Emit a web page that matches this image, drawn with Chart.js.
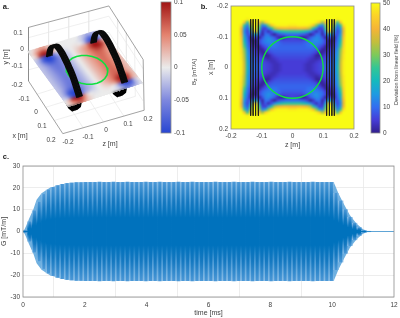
<!DOCTYPE html>
<html>
<head>
<meta charset="utf-8">
<style>
  html, body { margin: 0; padding: 0; background: #fff; }
  #page { position: relative; width: 400px; height: 318px; overflow: hidden; font-family: "Liberation Sans", Arial, sans-serif; color: #404040; }
  #page canvas { position: absolute; left: 0; top: 0; }
  .lbl { position: absolute; font-size: 6.5px; white-space: nowrap; transform: translate(-50%, -50%); }
  .rot { transform: translate(-50%, -50%) rotate(-90deg); }
  .panel { font-weight: bold; font-size: 7.5px; color: #222; }
  sub { font-size: 5px; vertical-align: -1px; line-height: 0; }
</style>
<script src="https://cdn.jsdelivr.net/npm/chart.js@4"></script>
</head>
<body>
<div id="page">
  <canvas id="chartA" width="400" height="318"></canvas>
  <canvas id="barA" width="400" height="318"></canvas>
  <canvas id="chartB" width="400" height="318"></canvas>
  <canvas id="barB" width="400" height="318"></canvas>
  <canvas id="chartC" width="400" height="318"></canvas>
</div>
<script>
// panel c: gradient waveform, one peak per stripe
const gTimes = [0.075, 0.225, 0.375, 0.525, 0.675, 0.825, 0.975, 1.125, 1.275, 1.425, 1.575, 1.725,
  1.875, 2.025, 2.175, 2.325, 2.475, 2.625, 2.775, 2.925, 3.075, 3.225, 3.375, 3.525, 3.675, 3.825,
  3.975, 4.125, 4.275, 4.425, 4.575, 4.725, 4.875, 5.025, 5.175, 5.325, 5.475, 5.625, 5.775, 5.925,
  6.075, 6.225, 6.375, 6.525, 6.675, 6.825, 6.975, 7.125, 7.275, 7.425, 7.575, 7.725, 7.875, 8.025,
  8.175, 8.325, 8.475, 8.625, 8.775, 8.925, 9.075, 9.225, 9.375, 9.525, 9.675, 9.825, 9.975,
  10.125, 10.275, 10.425, 10.575, 10.725, 10.875, 11.025, 11.175];
const gPeaks = [0.5, 4.5, 9.5, 13.5, 17, 19, 20.2, 21, 21.6, 22, 22.2, 22.4,
  22.4, 22.5, 22.5, 22.5, 22.6, 22.5, 22.5, 22.6, 22.5, 22.5, 22.6, 22.5, 22.5, 22.5,
  22.6, 22.5, 22.5, 22.6, 22.5, 22.5, 22.5, 22.6, 22.5, 22.5, 22.6, 22.5, 22.5, 22.5,
  22.5, 22.6, 22.5, 22.5, 22.5, 22.6, 22.5, 22.5, 22.5, 22.6, 22.5, 22.5, 22.5, 22.6,
  22.5, 22.5, 22.5, 22.6, 22.5, 22.5, 22.5, 22.5, 22.6, 22.5, 22.5, 22.5, 22.5,
  17.5, 14, 10, 6.5, 3.8, 1.8, 0.5, 0.1];
// outline of the waveform, smoother than the stripes
const envTimes = [0, 0.05, 0.1, 0.2, 0.33, 0.44, 0.6, 0.87, 1.1, 1.52, 2, 10.05, 10.1, 10.2, 10.36, 10.57, 10.79, 11, 11.16];
const envValues = [0, 1, 2.5, 6, 10, 14.5, 17.5, 20, 21, 22, 22.5, 22.5, 21, 17.5, 13, 7.6, 3.5, 1, 0.1];
const tailTimes = [11.1, 12];
const tailValues = [0, 0];
const cTicksX = [0, 2, 4, 6, 8, 10, 12];
const cTicksY = [-30, -20, -10, 0, 10, 20, 30];

// panel b: deviation [%], top-left quadrant, mirrored to the other three
const deviationQuarter = [
  [50,50,50,50,50,50,50,50,50,50,50,50,50,50,50,50,50,50,50,50,50],
  [50,50,50,50,50,50,50,50,50,50,50,50,50,50,50,50,50,50,50,50,50],
  [50,50,50,50,50,50,50,50,50,50,50,50,50,50,50,50,50,50,50,50,50],
  [50,50,50,50,50,50,50,50,50,50,50,50,50,50,50,50,50,50,50,50,50],
  [50,50,50,50,50,48,50,50,50,50,50,50,50,50,50,50,50,50,50,50,50],
  [50,50,50,50,42,25,42,50,50,40,32,44,48,50,50,50,50,50,50,50,50],
  [50,50,50,46,24,12,30,50,50,30,12,16,30,42,47,49,49,49,49,48,48],
  [50,50,50,40,15, 8,22,48,50,25, 6, 5,12,22,33,38,40,41,41,40,40],
  [50,50,50,38,13, 6,14,35,45,15, 3, 8, 3, 7,13,18,21,23,24,24,24],
  [50,50,50,40,15, 7, 8,16,18, 8, 2,10,10, 4, 1, 5, 8, 9,10,10,10],
  [50,50,50,42,18, 9, 2, 6, 6, 1, 7,12,13,11, 8, 3, 1, 1, 4, 5, 6],
  [50,50,50,43,20,10, 3, 1, 1, 6,10,12,14,13,11, 9, 7, 6, 6, 6, 6],
  [50,50,50,44,23,11, 5, 2, 1, 5, 9,11,12,12,11,10, 9, 8, 8, 8, 8],
  [50,50,50,45,26,12, 6, 4, 2, 1, 5, 8,10,11,11,10, 9, 9, 9, 9, 9],
  [50,50,50,46,30,14, 8, 6, 4, 1, 1, 5, 8, 9, 9, 9, 9, 9, 9, 9, 9],
  [50,50,50,46,32,15, 9, 7, 5, 3, 1, 1, 5, 7, 8, 8, 8, 8, 8, 8, 8],
  [50,50,50,47,33,16,10, 8, 6, 5, 3, 1, 1, 4, 6, 7, 7, 7, 7, 7, 7],
  [50,50,50,47,34,17,10, 9, 8, 6, 5, 3, 2, 3, 4, 5, 6, 6, 6, 6, 6],
  [50,50,50,48,35,18,11, 9, 8, 7, 6, 5, 4, 3, 3, 4, 5, 5, 5, 5, 5],
  [50,50,50,48,36,19,11,10, 9, 8, 7, 6, 5, 4, 3, 3, 4, 5, 5, 5, 5],
  [50,50,50,48,36,20,11,10, 9, 8, 7, 6, 5, 4, 3, 3, 4, 5, 5, 5, 5]
];
const planeTicks = [-0.2, -0.1, 0, 0.1, 0.2];

// panel a: Bz [mT/A] on the plane, quarter with z from -0.2 to 0, x from -0.2 to 0
const fieldQuarter = [
  [ 0.000, 0.010, 0.025, 0.035, 0.035, 0.020, 0.010, 0.000, 0.000, 0.000, 0],
  [ 0.005, 0.025, 0.055, 0.075, 0.075, 0.040, 0.015, 0.005, 0.000, 0.000, 0],
  [ 0.000, 0.025, 0.085, 0.100, 0.100, 0.060, 0.015, 0.000,-0.005,-0.003, 0],
  [-0.015,-0.030,-0.075,-0.100,-0.100,-0.070,-0.035,-0.025,-0.015,-0.008, 0],
  [-0.020,-0.040,-0.085,-0.100,-0.100,-0.080,-0.050,-0.035,-0.025,-0.012, 0],
  [-0.020,-0.035,-0.060,-0.080,-0.080,-0.065,-0.050,-0.035,-0.025,-0.012, 0],
  [-0.020,-0.030,-0.045,-0.060,-0.065,-0.060,-0.048,-0.035,-0.025,-0.012, 0],
  [-0.020,-0.030,-0.042,-0.055,-0.062,-0.058,-0.046,-0.035,-0.025,-0.012, 0],
  [-0.020,-0.030,-0.040,-0.052,-0.060,-0.056,-0.045,-0.035,-0.025,-0.012, 0],
  [-0.020,-0.030,-0.040,-0.050,-0.060,-0.055,-0.045,-0.035,-0.025,-0.012, 0],
  [-0.020,-0.030,-0.040,-0.050,-0.060,-0.055,-0.045,-0.035,-0.025,-0.012, 0]
];

// the green target circle, radius 0.1 m
const circleZ = [0.1, 0.0966, 0.0866, 0.0707, 0.05, 0.0259, 0, -0.0259, -0.05, -0.0707, -0.0866, -0.0966,
  -0.1, -0.0966, -0.0866, -0.0707, -0.05, -0.0259, 0, 0.0259, 0.05, 0.0707, 0.0866, 0.0966, 0.1];
const circleX = [0, 0.0259, 0.05, 0.0707, 0.0866, 0.0966, 0.1, 0.0966, 0.0866, 0.0707, 0.05, 0.0259,
  0, -0.0259, -0.05, -0.0707, -0.0866, -0.0966, -0.1, -0.0966, -0.0866, -0.0707, -0.05, -0.0259, 0];

// coil wires
const wireZ = [-0.136, -0.128, -0.12, -0.111, 0.111, 0.12, 0.128, 0.136];
const wireEndsX = [-0.157, 0.157];
const coilX = [-0.15, -0.14, -0.12, -0.08, -0.04, 0, 0.04, 0.08, 0.12, 0.15];
const coilY = [0, 0.05, 0.09, 0.125, 0.13, 0.12, 0.1, 0.075, 0.035, 0];
const lowerCoilX = [0.15, 0.13, 0.1, 0.07, 0.03];
const lowerCoilY = [0, -0.08, -0.12, -0.13, -0.12];

const colorbarATicks = [-0.1, -0.05, 0, 0.05, 0.1];
const colorbarBTicks = [0, 10, 20, 30, 40, 50];

const parula = [[50,30,140],[70,60,215],[50,110,240],[30,155,225],[20,185,190],[50,198,150],
  [125,202,90],[195,190,60],[245,180,55],[252,210,40],[249,251,20]];
const blueRed = [[40,70,210],[125,135,222],[235,235,235],[228,130,110],[160,20,20]];

const W = 400, H = 318;
const AXIS_GREY = '#8c8c8c', GRID_GREY = '#e8e8e8', TEXT_GREY = '#404040';
const FONT = { family: '"Liberation Sans", Arial, sans-serif', size: 6.5 };

Chart.defaults.animation = false;
Chart.defaults.responsive = false;
Chart.defaults.plugins.legend.display = false;
Chart.defaults.plugins.tooltip.enabled = false;
Chart.defaults.color = TEXT_GREY;

function pick(stops, t) {
  const p = Math.min(Math.max(t, 0), 1) * (stops.length - 1);
  const i = Math.min(Math.floor(p), stops.length - 2);
  const f = p - i;
  const c = stops[i].map((v, k) => Math.round(v + (stops[i + 1][k] - v) * f));
  return `rgb(${c[0]},${c[1]},${c[2]})`;
}

function mix2d(q, u, v) {
  return [
    q[0][0] * (1 - u) * (1 - v) + q[1][0] * u * (1 - v) + q[2][0] * u * v + q[3][0] * (1 - u) * v,
    q[0][1] * (1 - u) * (1 - v) + q[1][1] * u * (1 - v) + q[2][1] * u * v + q[3][1] * (1 - u) * v
  ];
}

// axes sizes are forced so the plot areas land where they do in the figure
function fitAxis(size, vertical) {
  return scale => {
    if (vertical) scale.width = size; else scale.height = size;
    scale.paddingTop = scale.paddingBottom = scale.paddingLeft = scale.paddingRight = 0;
  };
}

// soften the blocks of a finished heat dataset, the figure's maps are smooth
function softenCells(chart, px) {
  const ctx = chart.ctx;
  ctx.save();
  ctx.filter = `blur(${px}px)`;
  ctx.drawImage(chart.canvas, 0, 0);
  ctx.restore();
}

const frame = {
  id: 'frame',
  afterLayout(chart) {
    // labels are clipped to the scale box, which the layout keeps narrow here
    const y = chart.scales.y;
    if (y && y.options.position === 'right') y.right = y.left + 40;
  },
  afterDatasetsDraw(chart) {
    const a = chart.chartArea, ctx = chart.ctx;
    ctx.save();
    ctx.strokeStyle = AXIS_GREY;
    ctx.lineWidth = 0.8;
    ctx.strokeRect(a.left, a.top, a.right - a.left, a.bottom - a.top);
    ctx.restore();
  }
};

/* ---------- panel a, drawn in page pixels from a small projection ---------- */
const planeCorners = [[27, 51], [100, 29], [143, 83], [68, 107]];
const floorCorners = [[25, 79], [107, 52], [143, 109], [60, 133]];
const topCorners = [[25, 24], [107, 2], [142, 57], [60, 80]];

function project(z, x, y) {
  const u = (z + 0.2) / 0.4, v = (x + 0.2) / 0.4;
  const p = mix2d(planeCorners, u, v);
  return { x: p[0], y: p[1] - y * 165 };
}
function onCorners(q, z, x) {
  const p = mix2d(q, (z + 0.2) / 0.4, (x + 0.2) / 0.4);
  return { x: p[0], y: p[1] };
}

const planePoints = [], planeColors = [];
for (let i = 0; i <= 20; i++) {
  for (let j = 0; j <= 20; j++) {
    const row = fieldQuarter[i <= 10 ? i : 20 - i];
    const val = row[j <= 10 ? j : 20 - j] * (j > 10 ? -1 : 1);
    const z = -0.2 + j * 0.02, x = -0.2 + i * 0.02;
    planePoints.push(project(z, x, 0));
    planeColors.push(pick(blueRed, (val + 0.1) / 0.2));
  }
}

const lineSet = (data, color, width, order) => ({
  type: 'scatter', data, showLine: true, borderColor: color, borderWidth: width,
  pointRadius: 0, order, tension: 0, fill: false
});

const dsA = [];
planeTicks.slice(1, 4).forEach(t => {
  dsA.push(lineSet([onCorners(floorCorners, t, -0.2), onCorners(floorCorners, t, 0.2)], GRID_GREY, 0.7, 9));
  dsA.push(lineSet([onCorners(floorCorners, -0.2, t), onCorners(floorCorners, 0.2, t)], GRID_GREY, 0.7, 9));
  dsA.push(lineSet([onCorners(topCorners, t, -0.2), onCorners(floorCorners, t, -0.2)], GRID_GREY, 0.7, 9));
  dsA.push(lineSet([onCorners(topCorners, 0.2, t), onCorners(floorCorners, 0.2, t)], GRID_GREY, 0.7, 9));
});
[[-0.1], [0], [0.1]].forEach(([y]) => {
  const dy = (0 - y) * 165;
  dsA.push(lineSet([{ x: 25, y: 51 + dy }, { x: 107, y: 29 + dy }, { x: 142, y: 83 + dy }], GRID_GREY, 0.7, 9));
});
dsA.push(lineSet([
  { x: 25, y: 79 }, { x: 60, y: 133 }, { x: 143, y: 109 }, { x: 142, y: 57 }, { x: 107, y: 2 }, { x: 25, y: 24 }, { x: 25, y: 79 }
], AXIS_GREY, 0.8, 8));

wireZ.forEach(z => {
  dsA.push(lineSet(lowerCoilX.map((x, i) => project(z, x, lowerCoilY[i])), '#000', 2.2, 7));
});
dsA.push({
  type: 'scatter', label: 'plane', data: planePoints, backgroundColor: planeColors,
  pointRadius: 3.4, pointStyle: 'circle', borderWidth: 0, order: 5
});
dsA.push(lineSet(circleZ.map((z, i) => project(z, circleX[i], 0)), '#10e040', 1.6, 3));
wireZ.forEach(z => {
  const ds = lineSet(coilX.map((x, i) => project(z, x, coilY[i])), '#0a0a0a', 2.2, 2);
  ds.tension = 0.4;
  dsA.push(ds);
});

const clipPlane = {
  id: 'clipPlane',
  beforeDatasetDraw(chart, args) {
    if (chart.data.datasets[args.index].label !== 'plane') return;
    const ctx = chart.ctx;
    ctx.save();
    ctx.beginPath();
    planeCorners.forEach((c, i) => i ? ctx.lineTo(c[0], c[1]) : ctx.moveTo(c[0], c[1]));
    ctx.closePath();
    ctx.clip();
  },
  afterDatasetDraw(chart, args) {
    if (chart.data.datasets[args.index].label !== 'plane') return;
    softenCells(chart, 1.6);
    chart.ctx.restore();
  }
};

new Chart(document.getElementById('chartA'), {
  type: 'scatter',
  data: { datasets: dsA },
  plugins: [clipPlane],
  options: {
    layout: { padding: 0 },
    clip: false,
    scales: {
      x: { type: 'linear', min: 0, max: W, display: false },
      y: { type: 'linear', min: 0, max: H, reverse: true, display: false }
    }
  }
});

/* ---------- colour bars ---------- */
function colorbar(id, area, ticks, stops, yWidth, fmt) {
  const lo = ticks[0], hi = ticks[ticks.length - 1];
  new Chart(document.getElementById(id), {
    type: 'bar',
    data: {
      labels: [''],
      datasets: [{
        data: [[lo, hi]],
        barPercentage: 1,
        categoryPercentage: 1,
        backgroundColor(ctx) {
          const a = ctx.chart.chartArea;
          if (!a) return '#fff';
          const g = ctx.chart.ctx.createLinearGradient(0, a.bottom, 0, a.top);
          stops.forEach((c, i) => g.addColorStop(i / (stops.length - 1), `rgb(${c[0]},${c[1]},${c[2]})`));
          return g;
        }
      }]
    },
    plugins: [frame],
    options: {
      layout: { padding: { left: area.l, top: area.t, right: W - area.r - yWidth, bottom: H - area.b } },
      scales: {
        x: { display: false },
        y: {
          position: 'right', min: lo, max: hi,
          afterFit: fitAxis(yWidth, true),
          afterBuildTicks: s => { s.ticks = ticks.map(v => ({ value: v })); },
          grid: { display: false, drawTicks: false },
          border: { display: false },
          ticks: { font: FONT, padding: 3, autoSkip: false, maxRotation: 0, callback: fmt }
        }
      }
    }
  });
}
colorbar('barA', { l: 161, t: 2, r: 171, b: 133 }, colorbarATicks, blueRed, 20, v => String(v));
colorbar('barB', { l: 371, t: 3, r: 380, b: 133 }, colorbarBTicks, parula, 18, v => String(v));

/* ---------- panel b ---------- */
const cellPoints = [], cellColors = [];
for (let i = 0; i < 41; i++) {
  for (let j = 0; j < 41; j++) {
    const v = deviationQuarter[i <= 20 ? i : 40 - i][j <= 20 ? j : 40 - j];
    cellPoints.push({ x: -0.2 + (j + 0.5) * 0.4 / 41, y: -0.2 + (i + 0.5) * 0.4 / 41 });
    cellColors.push(pick(parula, v / 50));
  }
}
const dsB = [{
  label: 'cells', data: cellPoints, backgroundColor: cellColors, pointStyle: 'rect',
  pointRadius: 2.2, borderWidth: 0, order: 5
}];
wireZ.forEach(z => {
  dsB.push({
    data: wireEndsX.map(x => ({ x: z, y: x })), showLine: true, borderColor: '#1a1a1a', borderWidth: 0.8,
    pointRadius: 0, order: 2
  });
});
dsB.push({
  data: circleZ.map((z, i) => ({ x: z, y: circleX[i] })), showLine: true, borderColor: '#10e040',
  borderWidth: 1.4, pointRadius: 0, order: 1, tension: 0.3
});

const softCells = {
  id: 'softCells',
  afterDatasetDraw(chart, args) {
    if (chart.data.datasets[args.index].label !== 'cells') return;
    const a = chart.chartArea, ctx = chart.ctx;
    ctx.save();
    ctx.beginPath();
    ctx.rect(a.left, a.top, a.right - a.left, a.bottom - a.top);
    ctx.clip();
    softenCells(chart, 0.8);
    ctx.restore();
  }
};

const areaB = { l: 231, t: 6, r: 354, b: 129 };
new Chart(document.getElementById('chartB'), {
  type: 'scatter',
  data: { datasets: dsB },
  plugins: [frame, softCells],
  options: {
    layout: { padding: { left: areaB.l - 24, top: areaB.t, right: W - areaB.r, bottom: H - areaB.b - 20 } },
    scales: {
      x: {
        type: 'linear', min: -0.2, max: 0.2,
        afterFit: fitAxis(20, false),
        afterBuildTicks: s => { s.ticks = planeTicks.map(v => ({ value: v })); },
        grid: { display: false, drawTicks: false }, border: { display: false },
        ticks: { font: FONT, padding: 3, autoSkip: false, maxRotation: 0, callback: v => String(v) },
        title: { display: true, text: 'z [m]', font: { family: FONT.family, size: 7 }, padding: 0 }
      },
      y: {
        type: 'linear', min: -0.2, max: 0.2, reverse: true,
        afterFit: fitAxis(24, true),
        afterBuildTicks: s => { s.ticks = planeTicks.map(v => ({ value: v })); },
        grid: { display: false, drawTicks: false }, border: { display: false },
        ticks: { font: FONT, padding: 3, autoSkip: false, callback: v => String(v) },
        title: { display: true, text: 'x [m]', font: { family: FONT.family, size: 7 }, padding: 0 }
      }
    }
  }
});

/* ---------- panel c ---------- */
function stripeFill(edge, shoulder) {
  return ctx => {
    const chart = ctx.chart;
    if (!chart.chartArea) return '#0072bd';
    const e = gPeaks[ctx.dataIndex];
    const s = chart.scales.y;
    const g = chart.ctx.createLinearGradient(0, s.getPixelForValue(e), 0, s.getPixelForValue(-e));
    g.addColorStop(0, edge);
    g.addColorStop(0.2, shoulder);
    g.addColorStop(0.36, '#0072bd');
    g.addColorStop(0.64, '#0072bd');
    g.addColorStop(0.8, shoulder);
    g.addColorStop(1, edge);
    return g;
  };
}
const stripeData = gTimes.map((t, i) => ({ x: t, y: [-gPeaks[i], gPeaks[i]] }));
const areaC = { l: 23, t: 166, r: 394, b: 297 };
new Chart(document.getElementById('chartC'), {
  type: 'bar',
  data: {
    datasets: [
      { data: stripeData, grouped: false, barThickness: 4.7, backgroundColor: stripeFill('#8abde6', '#4a9ad6'), order: 3 },
      { data: stripeData, grouped: false, barThickness: 2.3, backgroundColor: stripeFill('#4a97d6', '#1478c0'), order: 2 },
      {
        type: 'line', data: envTimes.map((t, i) => ({ x: t, y: envValues[i] })),
        borderWidth: 0, pointRadius: 0, fill: '+1', backgroundColor: '#6fb0e0', order: 4
      },
      {
        type: 'line', data: envTimes.map((t, i) => ({ x: t, y: -envValues[i] })),
        borderWidth: 0, pointRadius: 0, order: 4
      },
      {
        type: 'line', data: tailTimes.map((t, i) => ({ x: t, y: tailValues[i] })),
        borderColor: '#3c93d0', borderWidth: 0.8, pointRadius: 0, order: 1
      }
    ]
  },
  plugins: [frame],
  options: {
    layout: { padding: { left: areaC.l - 23, top: areaC.t, right: W - areaC.r, bottom: H - areaC.b - 20 } },
    scales: {
      x: {
        type: 'linear', min: 0, max: 12, offset: false,
        afterFit: fitAxis(20, false),
        afterBuildTicks: s => { s.ticks = cTicksX.map(v => ({ value: v })); },
        grid: { color: GRID_GREY, lineWidth: 0.8, drawTicks: false }, border: { display: false },
        ticks: { font: FONT, padding: 4, autoSkip: false, maxRotation: 0 },
        title: { display: true, text: 'time [ms]', font: { family: FONT.family, size: 7 }, padding: 0 }
      },
      y: {
        type: 'linear', min: -30, max: 30,
        afterFit: fitAxis(23, true),
        afterBuildTicks: s => { s.ticks = cTicksY.map(v => ({ value: v })); },
        grid: { color: GRID_GREY, lineWidth: 0.8, drawTicks: false }, border: { display: false },
        ticks: { font: FONT, padding: 3, autoSkip: false },
        title: { display: true, text: 'G [mT/m]', font: { family: FONT.family, size: 7 }, padding: 0 }
      }
    }
  }
});

/* ---------- text around panel a and the panel letters ---------- */
const page = document.getElementById('page');
function addLabel(html, x, y, cls, size) {
  const el = document.createElement('span');
  el.className = 'lbl ' + (cls || '');
  el.innerHTML = html;
  el.style.left = x + 'px';
  el.style.top = y + 'px';
  if (size) el.style.fontSize = size + 'px';
  page.appendChild(el);
}
[['a.', 6, 6], ['b.', 204, 6], ['c.', 6, 156]].forEach(p => addLabel(p[0], p[1], p[2], 'panel'));
[['0.1', 18, 32], ['0', 22, 48], ['-0.1', 17, 65],
 ['-0.2', 17, 84], ['-0.1', 24, 98], ['0', 36, 111], ['0.1', 42, 125], ['0.2', 51, 139],
 ['-0.2', 68, 141], ['-0.1', 88, 136], ['0', 106, 129], ['0.1', 128, 123], ['0.2', 148, 118]]
  .forEach(p => addLabel(p[0], p[1], p[2]));
addLabel('x [m]', 20, 135, '', 7);
addLabel('z [m]', 110, 143, '', 7);
addLabel('y [m]', 5, 57, 'rot', 7);
addLabel('B<sub>z</sub> [mT/A]', 194, 72, 'rot', 6);
addLabel('Deviation from linear field [%]', 396, 70, 'rot', 5.4);
</script>
</body>
</html>
